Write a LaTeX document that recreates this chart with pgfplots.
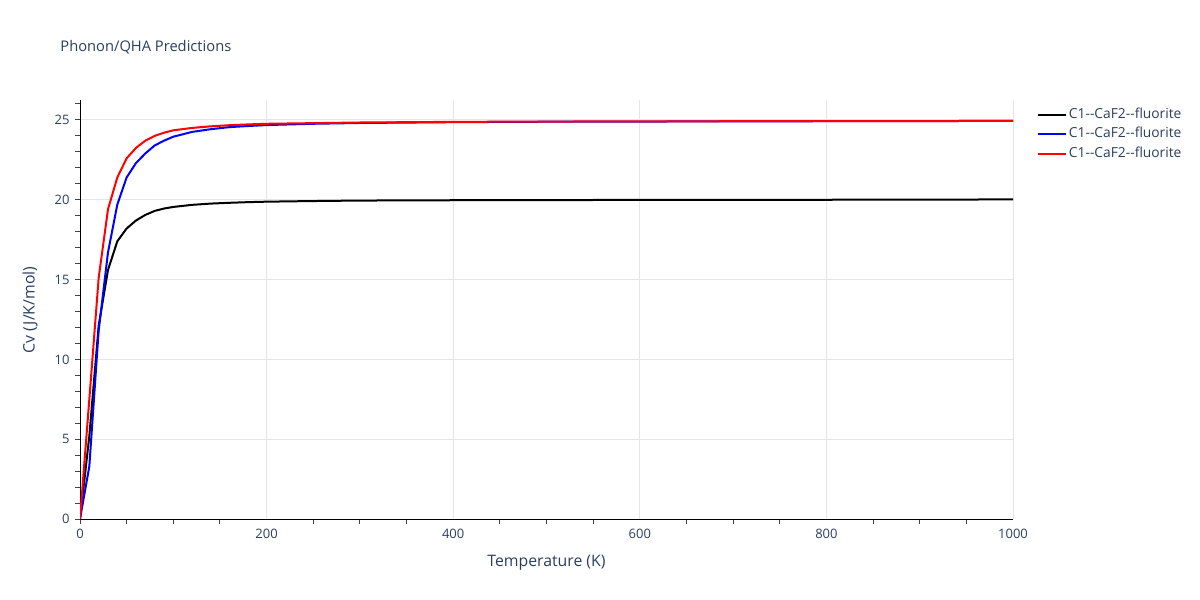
\documentclass[border=0pt]{standalone}
\usepackage{fontspec}
\setmainfont{Open Sans}
\usepackage{pgfplots}
\pgfplotsset{compat=1.18}
\usepackage{pgfplotstable}

\definecolor{txt}{HTML}{2A3F5F}
\definecolor{gridc}{HTML}{E5E5E5}
\definecolor{tickc}{HTML}{444444}

% T, black, blue, red  (Cv in J/K/mol)
\pgfplotstableread{
T    k      b      r
0    0      0      0
10   5.2    3.3    7.5
20   12.1   11.8   15.1
30   15.6   16.7   19.4
40   17.4   19.7   21.4
50   18.2   21.4   22.6
60   18.7   22.3   23.25
70   19.05  22.9   23.7
80   19.3   23.4   24.0
90   19.45  23.7   24.2
100  19.55  23.95  24.35
120  19.68  24.25  24.5
140  19.76  24.42  24.6
160  19.81  24.55  24.67
180  19.85  24.62  24.72
200  19.88  24.68  24.76
250  19.92  24.76  24.8
300  19.95  24.81  24.84
400  19.97  24.86  24.88
500  19.98  24.89  24.9
600  19.99  24.90  24.91
700  20.0   24.91  24.92
800  20.0   24.92  24.93
900  20.01  24.93  24.93
1000 20.02  24.94  24.94
}\cvdata

\newcommand{\mat}{C1{-}{-}CaF2{-}{-}fluorite}

\begin{document}
\begin{tikzpicture}
\path[use as bounding box] (0,0) rectangle (600pt,300pt);
\begin{axis}[
    at={(40pt,40.5pt)}, anchor=south west,
    scale only axis,
    width=466.5pt, height=209.5pt,
    xmin=0, xmax=1000,
    ymin=0, ymax=26.25,
    axis lines=left,
    axis line style={-, black, line width=0.5pt},
    xtick={0,200,...,1000},
    ytick={0,5,...,25},
    minor xtick={0,50,100,150,250,300,350,450,500,550,650,700,750,850,900,950},
    minor ytick={0,1,...,26},
    major tick length=0pt,
    minor tick length=2.5pt,
    tick align=outside,
    tick style={tickc, line width=0.5pt},
    xmajorgrids, ymajorgrids,
    major grid style={gridc, line width=0.5pt},
    /pgf/number format/assume math mode=true,
    /pgf/number format/1000 sep={},
    tick label style={font=\fontsize{6.5pt}{7.5pt}\selectfont, text=txt},
    xticklabel style={inner sep=0pt, yshift=-5pt},
    yticklabel style={inner sep=0pt, xshift=-5pt},
    xlabel={Temperature (K)},
    ylabel={Cv (J/K/mol)},
    label style={font=\fontsize{7.9pt}{9pt}\selectfont, text=txt},
    xlabel style={at={(axis description cs:0.5,-0.105)}, anchor=center},
    ylabel style={at={(axis description cs:-0.0536,0.499)}, anchor=center, rotate=0},
    title={Phonon/QHA Predictions},
    title style={at={(axis description cs:-0.0214,1.0976)}, anchor=west, yshift=0pt,
        font=\fontsize{7.35pt}{9pt}\selectfont, text=txt, inner sep=0pt},
    legend style={at={(axis description cs:1.0257,0.986)}, anchor=north west,
        draw=none, fill=none, font=\fontsize{6.9pt}{7.9pt}\selectfont, text=txt,
        row sep=1pt, inner sep=0pt, outer sep=0pt,
        nodes={inner sep=1pt, anchor=west}},
    legend cell align=left,
    legend image code/.code={\draw[#1] (0pt,0pt) -- (14pt,0pt);},
]
\addplot[black, line width=1pt] table[x=T, y=k] {\cvdata};
\addlegendentry{\mat}
\addplot[blue, line width=1pt] table[x=T, y=b] {\cvdata};
\addlegendentry{\mat}
\addplot[red, line width=1pt] table[x=T, y=r] {\cvdata};
\addlegendentry{\mat}
\end{axis}
\end{tikzpicture}
\end{document}
